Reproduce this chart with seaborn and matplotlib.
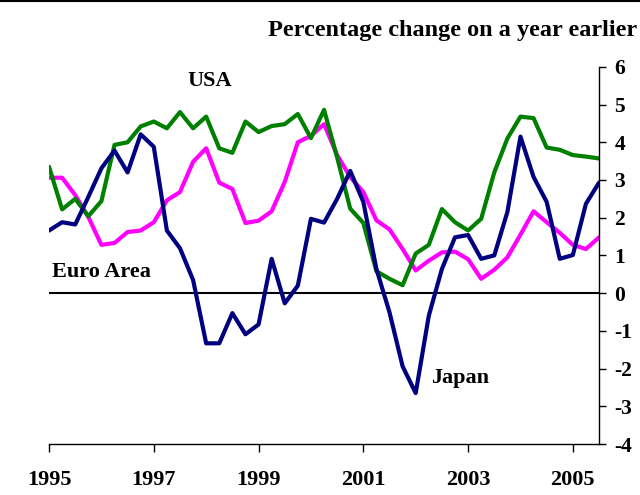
import numpy as np
import pandas as pd
import matplotlib
matplotlib.use('Agg')
import matplotlib.pyplot as plt
import seaborn as sns
from matplotlib.lines import Line2D

# quarterly data, 1995Q1 - 2005Q3
usa = [3.35, 2.22, 2.5, 2.04, 2.44, 3.93, 4.0, 4.42, 4.55, 4.37, 4.8, 4.37, 4.68, 3.84, 3.72,
       4.55, 4.27, 4.43, 4.48, 4.75, 4.11, 4.86, 3.6, 2.24, 1.86, 0.58, 0.38, 0.21, 1.05, 1.28,
       2.23, 1.88, 1.66, 1.97, 3.2, 4.1, 4.68, 4.64, 3.86, 3.8, 3.66, 3.62, 3.57]
euro = [3.06, 3.06, 2.6, 2.02, 1.28, 1.33, 1.62, 1.66, 1.88, 2.46, 2.68, 3.48, 3.84, 2.93, 2.76,
        1.86, 1.92, 2.17, 2.95, 4.0, 4.17, 4.48, 3.66, 3.08, 2.68, 1.93, 1.69, 1.17, 0.6, 0.86,
        1.08, 1.1, 0.9, 0.38, 0.62, 0.95, 1.55, 2.17, 1.88, 1.6, 1.28, 1.17, 1.48]
japan = [1.66, 1.88, 1.82, 2.55, 3.31, 3.78, 3.2, 4.21, 3.88, 1.66, 1.19, 0.35, -1.33, -1.33, -0.53,
         -1.09, -0.83, 0.91, -0.27, 0.2, 1.97, 1.87, 2.5, 3.24, 2.42, 0.64, -0.51, -1.94, -2.65, -0.6,
         0.64, 1.48, 1.54, 0.91, 1.0, 2.15, 4.15, 3.08, 2.42, 0.91, 1.01, 2.37, 2.93]
year = 1995 + np.arange(len(usa)) / 4
year_ticks = [1995, 1997, 1999, 2001, 2003, 2005]
y_ticks = [-4, -3, -2, -1, 0, 1, 2, 3, 4, 5, 6]

df = pd.DataFrame({
    'year': np.tile(year, 3),
    'value': euro + usa + japan,
    'region': ['Euro Area'] * len(euro) + ['USA'] * len(usa) + ['Japan'] * len(japan),
})

sns.set_style('white')
plt.rcParams['font.family'] = ['Liberation Serif', 'DejaVu Serif']
plt.rcParams['font.weight'] = 'bold'
plt.rcParams['axes.unicode_minus'] = False
plt.rcParams['text.color'] = 'black'
plt.rcParams['xtick.color'] = 'black'
plt.rcParams['ytick.color'] = 'black'

fig = plt.figure(figsize=(6.4, 4.95), dpi=100)
ax = fig.add_axes([0.0766, 0.103, 0.8594, 0.762])

palette = {'Euro Area': '#ff00ff', 'USA': '#008000', 'Japan': '#000080'}
sns.lineplot(data=df, x='year', y='value', hue='region', palette=palette,
             linewidth=3, legend=False, ax=ax)

ax.axhline(0, color='black', linewidth=1.5, zorder=1)

ax.set_xlim(1995, 2005.5)
ax.set_ylim(-4, 6)
ax.set_xticks(year_ticks)
ax.set_yticks(y_ticks)
ax.set_xlabel('')
ax.set_ylabel('')

for s in ['left', 'top']:
    ax.spines[s].set_visible(False)
for s in ['right', 'bottom']:
    ax.spines[s].set_color('black')
    ax.spines[s].set_linewidth(1.0)

ax.yaxis.tick_right()
ax.tick_params(axis='y', direction='out', length=5, width=1, pad=6,
               labelsize=15.5, right=True, left=False, labelcolor='black')
ax.tick_params(axis='x', direction='out', length=6, width=1, pad=13,
               labelsize=16, bottom=True, labelcolor='black')

ax.text(1998.07, 5.49, 'USA', fontsize=16, fontweight='bold', ha='center', va='baseline')
ax.text(1995.06, 0.43, 'Euro Area', fontsize=16, fontweight='bold', ha='left', va='baseline')
ax.text(2002.3, -2.37, 'Japan', fontsize=16, fontweight='bold', ha='left', va='baseline')

fig.text(0.995, 0.927, 'Percentage change on a year earlier', fontsize=17.5,
         fontweight='bold', ha='right', va='baseline')
fig.add_artist(Line2D([0, 1], [0.998, 0.998], color='black', linewidth=1.5,
                      transform=fig.transFigure))

fig.savefig('out.png', dpi=100)
